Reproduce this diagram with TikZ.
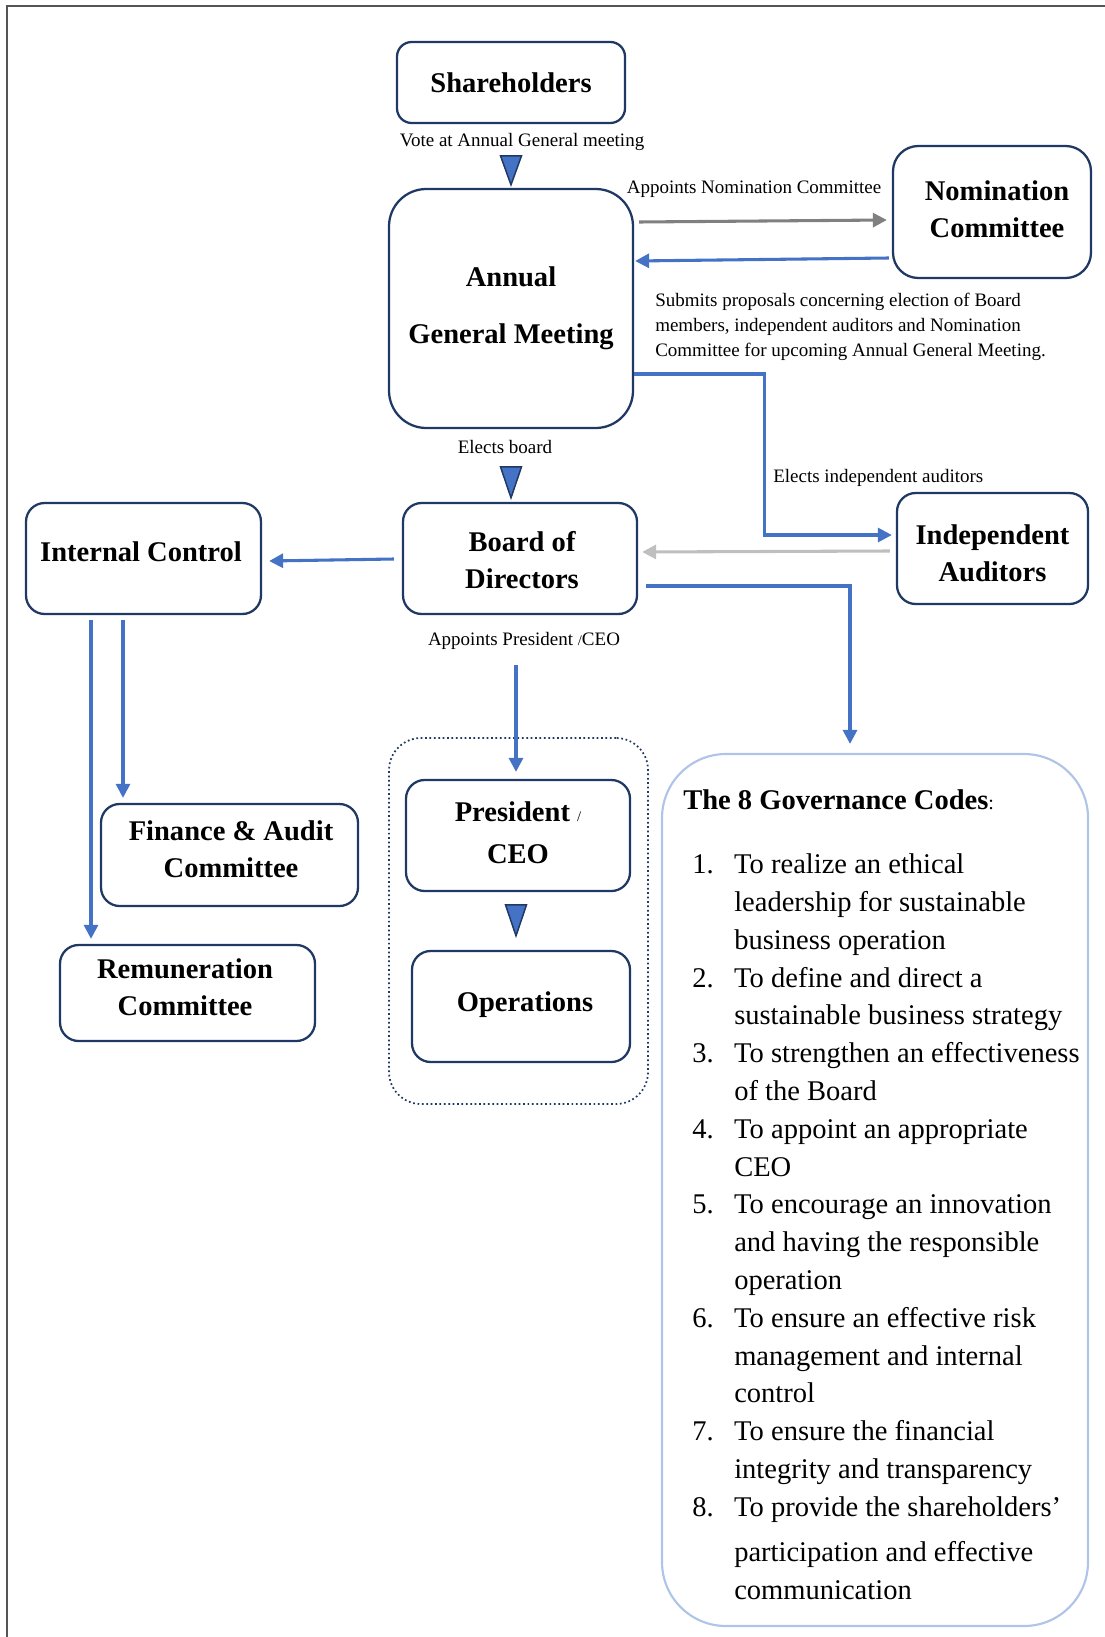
\documentclass[tikz,border=0pt]{standalone}
\usepackage{fontspec}
\setmainfont{Liberation Serif}
\usetikzlibrary{arrows.meta,calc}

\definecolor{navy}{HTML}{1F3864}
\definecolor{arrowblue}{HTML}{4472C4}
\definecolor{midgray}{HTML}{808080}
\definecolor{palegray}{HTML}{BFBFBF}
\definecolor{codeblue}{HTML}{AFC4E8}
\definecolor{framegray}{HTML}{555555}

\newcommand\titlefont{\fontsize{21.4pt}{27.75pt}\selectfont\bfseries}
\newcommand\labelfont{\fontsize{14.25pt}{18.75pt}\selectfont}
\newcommand\listfont{\fontsize{21.4pt}{28.35pt}\selectfont}
\newcommand\smallslash{{\mdseries\fontsize{11pt}{11pt}\selectfont/}}

\begin{document}
\begin{tikzpicture}[x=0.75pt,y=-0.75pt,
  box/.style={draw=navy,line width=1.7pt,rounded corners=#1,inner sep=0pt,
    align=center,font=\titlefont},
  box/.default=13pt,
  txt/.style={inner sep=0pt,align=center,font=\titlefont},
  lbl/.style={inner sep=0pt,font=\labelfont},
  link/.style={draw=arrowblue,line width=2.3pt,
    -{Triangle[length=10.5pt,width=10.5pt]}},
  graylink/.style={link,draw=midgray},
  palelink/.style={link,draw=palegray},
  marker/.style={fill=arrowblue,draw=navy,line width=1.1pt,line join=miter},
]
\useasboundingbox (0,0) rectangle (1105,1637);

% page frame (top and left rules)
\draw[framegray,line width=1.5pt] (7,1637) -- (7,6) -- (1105,6);

% main bodies
\node[box=11pt,minimum width=171pt,minimum height=60.75pt] (sh) at (511,82.5) {Shareholders};
\node[box=28pt,minimum width=183pt,minimum height=179.25pt] (agm) at (511,308.5) {Annual\\[15pt]General Meeting};
\node[box=19pt,minimum width=148.5pt,minimum height=99pt] (nom) at (992,212) {};
\node[txt] (nomT) at (997,209) {Nomination\\Committee};
\node[box=14pt,minimum width=175.5pt,minimum height=83.25pt] (bod) at (520,558.5) {};
\node[txt] (bodT) at (522,560.5) {Board of\\Directors};
\node[box=14pt,minimum width=143.25pt,minimum height=83.25pt] (aud) at (992.5,548.5) {};
\node[txt] (audT) at (992.5,553) {Independent\\Auditors};

% internal control and its committees
\node[box=14pt,minimum width=176.25pt,minimum height=83.25pt] (ic) at (143.5,558.5) {};
\node[txt] (icT) at (141,551.5) {Internal Control};
\node[box=14pt,minimum width=192.75pt,minimum height=76.5pt] (fin) at (229.5,855) {};
\node[txt] (finT) at (231,849) {Finance \& Audit\\Committee};
\node[box=14pt,minimum width=191.25pt,minimum height=72pt] (rem) at (187.5,993) {};
\node[txt] (remT) at (185,987.5) {Remuneration\\Committee};

% executive group
\node[draw=navy,dotted,line width=1.3pt,rounded corners=24pt,minimum width=194.25pt,
  minimum height=274.5pt] (exec) at (518.5,921) {};
\node[box=14pt,minimum width=168pt,minimum height=83.25pt] (ceo) at (518,835.5) {};
\node[txt] (ceoT) at (518,833) {President \smallslash\\[3.75pt]CEO};
\node[box=14pt,minimum width=163.5pt,minimum height=83.25pt] (ops) at (521,1006.5) {};
\node[txt] (opsT) at (525,1005) {Operations};

% governance codes panel
\node[draw=codeblue,line width=1.6pt,rounded corners=48pt,minimum width=319.5pt,
  minimum height=654pt] (gov) at (875,1190) {};
\node[anchor=west,inner sep=0pt,font=\titlefont] (govT) at (683,800)
  {The 8 Governance Codes{\mdseries\fontsize{15pt}{15pt}\selectfont:}};
\node[inner sep=0pt,anchor=north west,font=\listfont] (govL) at (692,847) {%
\begin{tabular}{@{}p{31.5pt}@{}l@{}}
1. & To realize an ethical\\
   & leadership for sustainable\\
   & business operation\\
2. & To define and direct a\\
   & sustainable business strategy\\
3. & To strengthen an effectiveness\\
   & of the Board\\
4. & To appoint an appropriate\\
   & CEO\\
5. & To encourage an innovation\\
   & and having the responsible\\
   & operation\\
6. & To ensure an effective risk\\
   & management and internal\\
   & control\\
7. & To ensure the financial\\
   & integrity and transparency\\
8. & To provide the shareholders’\\[5.4pt]
   & participation and effective\\
   & communication
\end{tabular}};

% connector labels
\node[lbl] (voteL) at (522,142) {Vote at Annual General meeting};
\node[lbl] (appNomL) at (754,189) {Appoints Nomination Committee};
\node[lbl,anchor=west,align=left] (subL) at (655,327)
  {Submits proposals concerning election of Board\\
   members, independent auditors and Nomination\\
   Committee for upcoming Annual General Meeting.};
\node[lbl,anchor=west] (audL) at (773,478) {Elects independent auditors};
\node[lbl] (boardL) at (505,447) {Elects board};
\node[lbl] (ceoL) at (524,641) {Appoints President \smallslash CEO};

% downward markers
\draw[marker] (agm.north) ++(0,-3) -- ++(-10.5,-29) -- ++(21,0) -- cycle;
\draw[marker] ($(bod.north)+(-9,-4)$) -- ++(-10.5,-31) -- ++(21,0) -- cycle;
\draw[marker] ($(ops.north)+(-5,-14)$) -- ++(-10.5,-31) -- ++(21,0) -- cycle;

% connectors
\draw[graylink] ($(agm.east)+(5,-86.5)$) -- ($(nom.west)+(-5,8)$);
\draw[link] ($(nom.west)+(-3,46)$) -- ($(agm.east)+(1,-47.5)$);
\draw[link] ($(agm.east)+(0,65.5)$) -- ++(130,0) |- ($(aud.west)+(-4,-13.5)$);
\draw[palelink] ($(aud.west)+(-6,2.5)$) -- ($(bod.east)+(4,-6.5)$);
\draw[link] ($(bod.west)+(-8,0.5)$) -- ($(ic.east)+(7,2.5)$);
\draw[link] ($(bod.east)+(8,27.5)$) -| ($(gov.north)+(-25,-9)$);
\draw[link] ($(bod.south)+(-4,50)$) -- ($(ceo.north)+(-2,-7)$);

\coordinate (icA) at ($(ic.south)+(-52.5,5)$);
\coordinate (icB) at ($(ic.south)+(-20.5,5)$);
\draw[link] (icA) -- ($(icA |- rem.north)+(0,-5)$);
\draw[link] (icB) -- ($(icB |- fin.north)+(0,-5)$);
\end{tikzpicture}
\end{document}
